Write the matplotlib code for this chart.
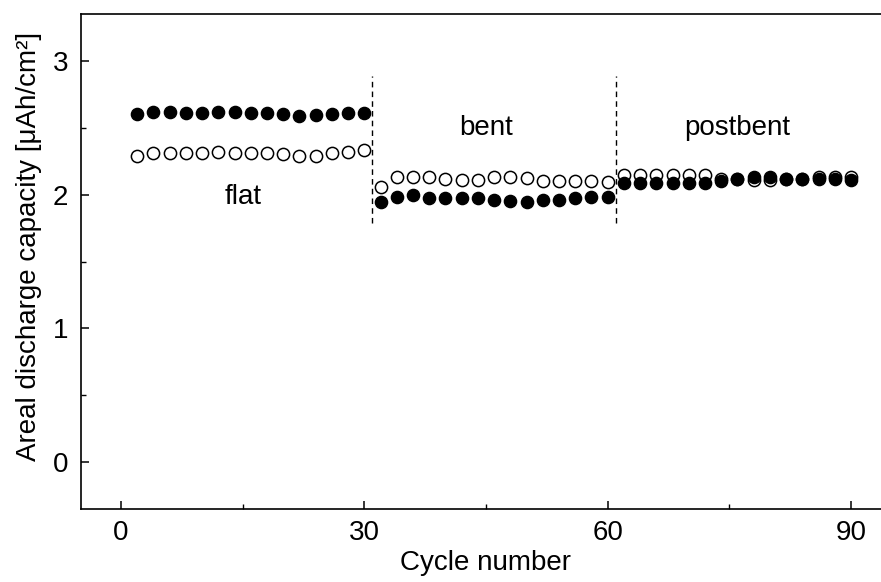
import matplotlib
matplotlib.use("Agg")
import matplotlib.pyplot as plt
from matplotlib.ticker import MultipleLocator

plt.rcParams['font.family'] = ['Liberation Sans', 'DejaVu Sans']

# Cycle numbers for each regime
cycles_flat = list(range(2, 31, 2))
cycles_bent = list(range(32, 61, 2))
cycles_post = list(range(62, 91, 2))

# Charge (open) and discharge (filled) areal capacity, uAh/cm^2
open_flat = [2.29, 2.31, 2.31, 2.31, 2.31, 2.32, 2.31, 2.31, 2.31, 2.30, 2.29, 2.29, 2.31, 2.32, 2.33]
filled_flat = [2.60, 2.62, 2.615, 2.613, 2.613, 2.615, 2.615, 2.613, 2.608, 2.60, 2.59, 2.598, 2.603, 2.613, 2.613]

open_bent = [2.06, 2.134, 2.134, 2.134, 2.114, 2.109, 2.109, 2.134, 2.134, 2.127, 2.104, 2.104, 2.104, 2.104, 2.097]
filled_bent = [1.947, 1.984, 1.997, 1.977, 1.972, 1.972, 1.977, 1.960, 1.952, 1.947, 1.960, 1.960, 1.972, 1.98, 1.984]

open_post = [2.147, 2.147, 2.147, 2.147, 2.147, 2.147, 2.12, 2.12, 2.109, 2.109, 2.12, 2.12, 2.129, 2.129, 2.13]
filled_post = [2.09, 2.09, 2.09, 2.09, 2.09, 2.09, 2.104, 2.12, 2.129, 2.13, 2.12, 2.12, 2.114, 2.114, 2.11]

boundaries = [31, 61]
regime_labels = ["flat", "bent", "postbent"]
regime_label_x = [15, 45, 76]
regime_label_y = [1.98, 2.50, 2.50]

FS = 20

fig = plt.figure(figsize=(8.81, 5.82), dpi=100)
ax = fig.add_axes([80.5 / 881, 73 / 582, 811 / 881, 495 / 582])

ms = 8.8
for xs, ys_open, ys_filled in [(cycles_flat, open_flat, filled_flat),
                               (cycles_bent, open_bent, filled_bent),
                               (cycles_post, open_post, filled_post)]:
    ax.plot(xs, ys_open, 'o', ms=ms, mfc='white', mec='black', mew=1.1, ls='none', zorder=3)
    ax.plot(xs, ys_filled, 'o', ms=ms, mfc='black', mec='black', ls='none', zorder=4)

for b in boundaries:
    ax.plot([b, b], [1.79, 2.89], ls=(0, (4, 3)), color='black', lw=1.0, zorder=2)

for lbl, tx, ty in zip(regime_labels, regime_label_x, regime_label_y):
    ax.text(tx, ty, lbl, ha='center', va='center', fontsize=FS)

ax.set_xlim(-5, 95)
ax.set_ylim(-0.35, 3.35)
ax.xaxis.set_major_locator(MultipleLocator(30))
ax.xaxis.set_minor_locator(MultipleLocator(15))
ax.yaxis.set_major_locator(MultipleLocator(1))
ax.yaxis.set_minor_locator(MultipleLocator(0.5))
ax.tick_params(which='both', direction='in', top=False, right=False, labelsize=FS)
ax.tick_params(axis='x', pad=8)
ax.tick_params(axis='y', pad=9)
ax.tick_params(which='major', length=6, width=1.1)
ax.tick_params(which='minor', length=3.5, width=1.0)
for s in ax.spines.values():
    s.set_linewidth(1.2)
ax.spines['right'].set_visible(False)

ax.set_xlabel("Cycle number", fontsize=FS, labelpad=3)
ax.set_ylabel("Areal discharge capacity [μAh/cm²]", fontsize=FS, labelpad=6)
ax.yaxis.set_label_coords(-0.047, 0.53)

fig.savefig("out.png", dpi=100)
